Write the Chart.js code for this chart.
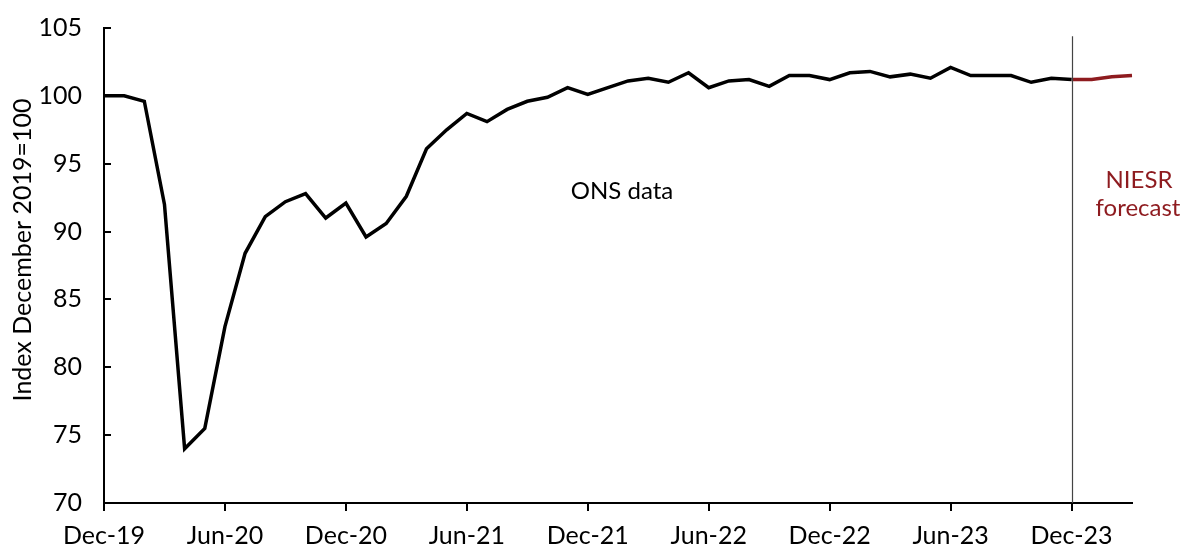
<!DOCTYPE html>
<html>
<head>
<meta charset="utf-8">
<script src="https://cdn.jsdelivr.net/npm/chart.js@4"></script>
<style>
  html, body { margin: 0; padding: 0; background: #fff; }
</style>
</head>
<body>
<canvas id="chart-1" width="1194" height="548"></canvas>
<script>
const months = [
  'Dec-19',
  'Jan-20', 'Feb-20', 'Mar-20', 'Apr-20', 'May-20', 'Jun-20', 'Jul-20', 'Aug-20', 'Sep-20', 'Oct-20', 'Nov-20', 'Dec-20',
  'Jan-21', 'Feb-21', 'Mar-21', 'Apr-21', 'May-21', 'Jun-21', 'Jul-21', 'Aug-21', 'Sep-21', 'Oct-21', 'Nov-21', 'Dec-21',
  'Jan-22', 'Feb-22', 'Mar-22', 'Apr-22', 'May-22', 'Jun-22', 'Jul-22', 'Aug-22', 'Sep-22', 'Oct-22', 'Nov-22', 'Dec-22',
  'Jan-23', 'Feb-23', 'Mar-23', 'Apr-23', 'May-23', 'Jun-23', 'Jul-23', 'Aug-23', 'Sep-23', 'Oct-23', 'Nov-23', 'Dec-23',
  'Jan-24', 'Feb-24', 'Mar-24'
];

// ONS monthly GDP index, Dec-19 .. Dec-23
const onsData = [
  100.0,
  100.0, 99.6, 92.0, 74.0, 75.5, 83.0, 88.4, 91.1, 92.2, 92.8, 91.0, 92.1,
  89.6, 90.6, 92.6, 96.1, 97.5, 98.7, 98.1, 99.0, 99.6, 99.9, 100.6, 100.1,
  100.6, 101.1, 101.3, 101.0, 101.7, 100.6, 101.1, 101.2, 100.7, 101.5, 101.5, 101.2,
  101.7, 101.8, 101.4, 101.6, 101.3, 102.1, 101.5, 101.5, 101.5, 101.0, 101.3, 101.2
];

// NIESR forecast, Dec-23 .. Mar-24
const forecastData = [101.2, 101.2, 101.4, 101.5];

const yTicks = [70, 75, 80, 85, 90, 95, 100, 105];

const forecastStart = months.indexOf('Dec-23');
const forecastSeries = months.map((m, i) => i >= forecastStart ? forecastData[i - forecastStart] : null);

const FONT = 'Lato';
const RED = '#8e1b1f';

// inward y ticks, forecast divider and text labels
const extras = {
  id: 'extras',
  afterDraw(chart) {
    const c = chart.ctx;
    const x = chart.scales.x;
    const y = chart.scales.y;
    const area = chart.chartArea;
    c.save();

    // y tick marks pointing into the plot
    c.strokeStyle = '#000';
    c.lineWidth = 2;
    yTicks.forEach(v => {
      const py = Math.round(y.getPixelForValue(v));
      c.beginPath();
      c.moveTo(area.left, py);
      c.lineTo(area.left + 7, py);
      c.stroke();
    });

    // divider at start of forecast
    const dx = Math.round(x.getPixelForValue(forecastStart)) + 0.5;
    c.strokeStyle = '#444';
    c.lineWidth = 1.2;
    c.beginPath();
    c.moveTo(dx, y.getPixelForValue(104.4));
    c.lineTo(dx, area.bottom);
    c.stroke();

    c.font = '24px ' + FONT;
    c.textAlign = 'center';
    c.textBaseline = 'alphabetic';
    c.fillStyle = '#000';
    c.fillText('ONS data', x.getPixelForValue(25.7), 199);

    c.fillStyle = RED;
    c.fillText('NIESR', 1139, 188);
    c.fillText('forecast', 1138, 216);

    // y axis title
    c.fillStyle = '#000';
    c.font = '25px ' + FONT;
    c.translate(31, 250);
    c.rotate(-Math.PI / 2);
    c.fillText('Index December 2019=100', 0, 0);
    c.restore();
  }
};

const config1 = {
  type: 'line',
  data: {
    labels: months,
    datasets: [
      {
        label: 'ONS data',
        data: onsData,
        borderColor: '#000',
        borderWidth: 3.5,
        pointRadius: 0,
        tension: 0
      },
      {
        label: 'NIESR forecast',
        data: forecastSeries,
        borderColor: RED,
        borderWidth: 3.5,
        pointRadius: 0,
        tension: 0
      }
    ]
  },
  options: {
    responsive: false,
    animation: false,
    layout: { padding: { left: 0, right: 62, top: 28, bottom: 0 } },
    plugins: {
      legend: { display: false },
      tooltip: { enabled: false }
    },
    scales: {
      x: {
        offset: false,
        afterFit: s => { s.height = 45; },
        border: { color: '#000', width: 2 },
        grid: { drawOnChartArea: false, drawTicks: true, tickLength: 8, color: '#000', lineWidth: 2 },
        ticks: {
          autoSkip: false,
          maxRotation: 0,
          padding: 12,
          color: '#000',
          font: { family: FONT, size: 25, lineHeight: 1 },
          callback: (v, i) => (i % 6 === 0 ? months[i] : null)
        }
      },
      y: {
        min: 70,
        max: 105,
        afterFit: s => { s.width = 104; s.paddingTop = 0; s.paddingBottom = 0; },
        border: { color: '#000', width: 2 },
        grid: { drawOnChartArea: false, drawTicks: false },
        afterBuildTicks: s => { s.ticks = yTicks.map(v => ({ value: v })); },
        ticks: {
          padding: 22,
          color: '#000',
          font: { family: FONT, size: 25 }
        }
      }
    }
  },
  plugins: [extras]
};

const ctx1 = document.getElementById('chart-1');
const chart1 = new Chart(ctx1, config1);
</script>
</body>
</html>
